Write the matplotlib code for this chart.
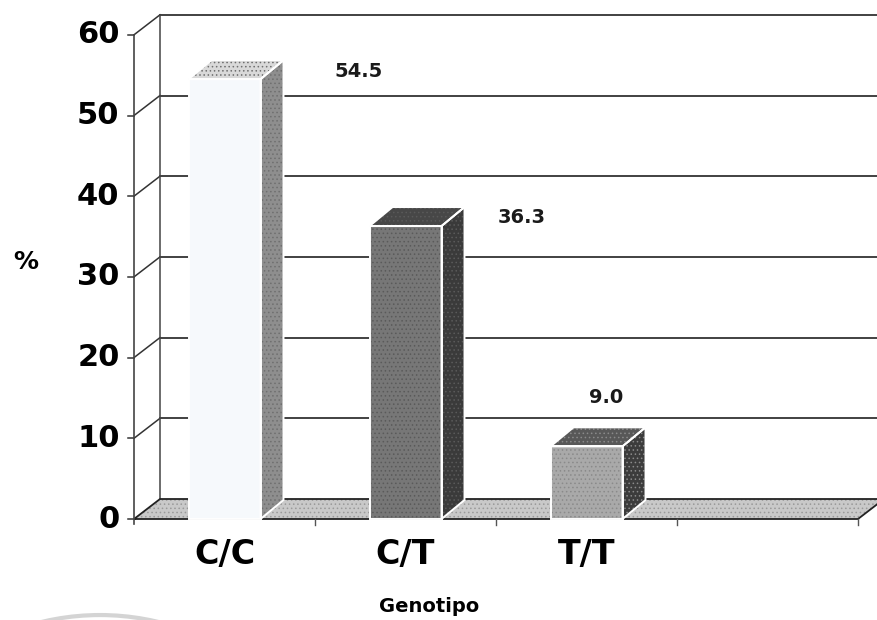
import matplotlib
matplotlib.use("Agg")
import matplotlib.pyplot as plt
from matplotlib.patches import Polygon, Arc

# data
categories = ["C/C", "C/T", "T/T"]
values = [54.5, 36.3, 9.0]
value_labels = ["54.5", "36.3", "9.0"]
yticks = [0, 10, 20, 30, 40, 50, 60]
n_slots = 4  # excel leaves an empty 4th category slot

# styles
front_colors = ["#f6f9fc", "#777777", "#a9a9a9"]
side_colors = ["#8e8e8e", "#3a3a3a", "#3c3c3c"]
top_colors = ["#d9d9d9", "#474747", "#585858"]
dot_colors = ["#6f6f6f", "#5a5a5a", "#8a8a8a"]
label_dx = [0.74, 0.64, 0.11]
label_dy = [0.9, 1.0, 6.0]

# pixel geometry of the original (front plane)
px_cat = 181.0
px_unit = 8.07
x0_px, y0_px = 134, 519
W, H = 877, 620

fig = plt.figure(figsize=(W / 100, H / 100), dpi=100)
ax = fig.add_axes([0, 0, 1, 1])
ax.set_xlim(-0.5 - x0_px / px_cat, -0.5 + (W - x0_px) / px_cat)
ax.set_ylim(-(H - y0_px) / px_unit, y0_px / px_unit)
ax.axis("off")

# depth offsets (walls and bars)
wdx, wdy = 26 / px_cat, 20 / px_unit
bdx, bdy = 23 / px_cat, 19 / px_unit
bw = 72 / px_cat
xmin, xmax = -0.5, n_slots - 0.5
xright = ax.get_xlim()[1]
ymax = yticks[-1]
plt.rcParams["hatch.linewidth"] = 0.6

# floor
floor = [(xmin, 0), (xmax, 0), (xmax + wdx, wdy), (xmin + wdx, wdy)]
ax.add_patch(Polygon(floor, closed=True, facecolor="#c9c9c9", edgecolor="#9a9a9a",
                     hatch="....", lw=0, zorder=1))
ax.add_patch(Polygon(floor, closed=True, fill=False, edgecolor="#222222", lw=1.3, zorder=2))

# back wall + side wall gridlines
for v in yticks:
    if v > 0:
        ax.plot([xmin + wdx, xright], [v + wdy, v + wdy], color="#333333", lw=1.3, zorder=1.5)
        ax.plot([xmin, xmin + wdx], [v, v + wdy], color="#333333", lw=1.1, zorder=1.5)
    ax.plot([xmin - 0.035, xmin], [v, v], color="#333333", lw=1.1, zorder=2)
    ax.text(xmin - 0.08, v, str(v), ha="right", va="center", fontsize=22,
            fontweight="bold", family="DejaVu Sans")
ax.plot([xmin + wdx, xmin + wdx], [wdy, ymax + wdy], color="#444444", lw=1.1, zorder=1.5)
ax.plot([xmin, xmin], [-0.6, ymax], color="#444444", lw=1.2, zorder=2)

# category ticks on floor front edge
for k in range(1, n_slots + 1):
    ax.plot([xmin + k, xmin + k], [0, -0.7], color="#555555", lw=1.0, zorder=2)

# bars
for i, v in enumerate(values):
    xl, xr = i - bw / 2, i + bw / 2
    front = [(xl, 0), (xr, 0), (xr, v), (xl, v)]
    side = [(xr, 0), (xr + bdx, bdy), (xr + bdx, v + bdy), (xr, v)]
    top = [(xl, v), (xr, v), (xr + bdx, v + bdy), (xl + bdx, v + bdy)]
    for face, fc in ((front, front_colors[i]), (side, side_colors[i]), (top, top_colors[i])):
        hatch = "...." if not (i == 0 and face is front) else None
        ax.add_patch(Polygon(face, closed=True, facecolor=fc, edgecolor=dot_colors[i],
                             hatch=hatch, lw=0, zorder=3))
        ax.add_patch(Polygon(face, closed=True, fill=False, edgecolor="white",
                             lw=1.4, zorder=3.5))
    ax.text(i + label_dx[i], v + label_dy[i], value_labels[i], ha="center", va="center",
            fontsize=14, fontweight="bold", family="DejaVu Sans", color="#1a1a1a")

# category labels
for i, c in enumerate(categories):
    ax.text(i, -4.4, c, ha="center", va="center", fontsize=24, fontweight="bold",
            family="DejaVu Sans")

ax.text(-1.10, 31.9, "%", ha="center", va="center", fontsize=18, fontweight="bold",
        family="DejaVu Sans")
ax.text(1.13, -10.9, "Genotipo", ha="center", va="center", fontsize=14,
        fontweight="bold", family="DejaVu Sans")

# faint scan artefact arc at the bottom left
fig.patches.append(Arc((0.114, -0.395), 0.57, 0.806, theta1=75, theta2=105,
                       transform=fig.transFigure, color="#d4d4d4", lw=3))

fig.savefig("out.png", dpi=100)
